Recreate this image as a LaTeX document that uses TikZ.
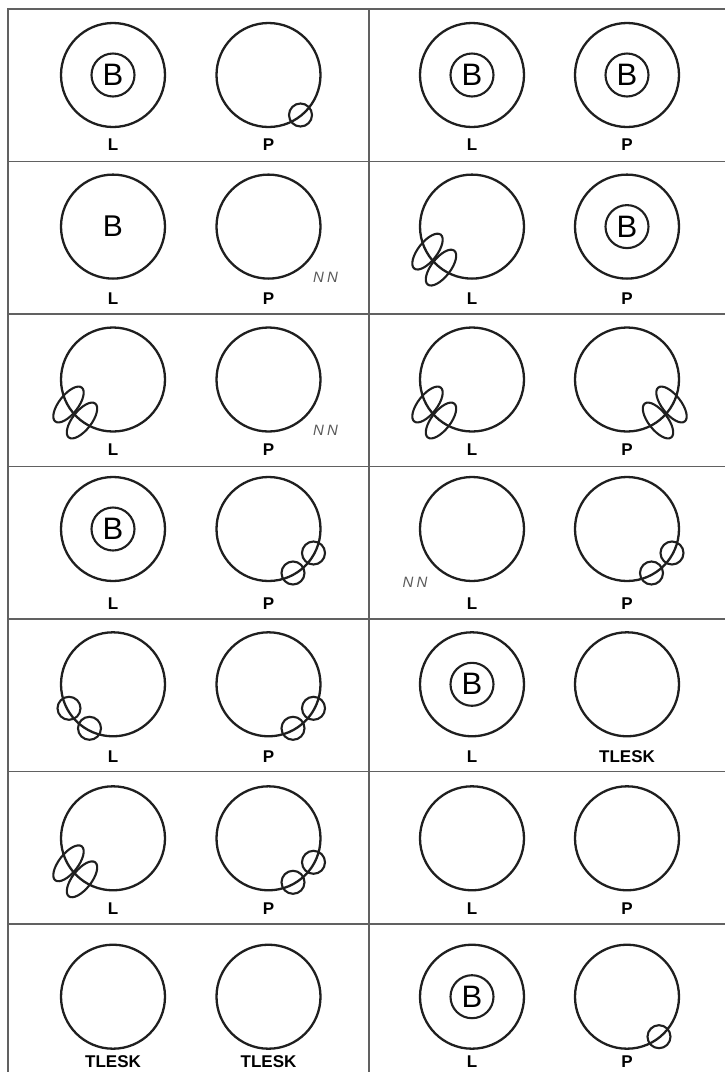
\documentclass[tikz,border=0pt]{standalone}
\usepackage{fontspec}
\setmainfont{Liberation Sans}
\usetikzlibrary{calc,shapes.geometric}
\tikzset{
  bigc/.style={circle,draw=black!88,line width=2.3pt,minimum size=104pt,inner sep=0pt,outer sep=0pt},
  bcirc/.style={circle,draw=black!88,line width=2.1pt,minimum size=43pt,inner sep=0pt,font=\fontsize{31}{31}\selectfont},
  bplain/.style={inner sep=0pt,font=\fontsize{30}{30}\selectfont},
  smallc/.style={circle,draw=black!88,line width=2.1pt,minimum size=23pt,inner sep=0pt},
  ell/.style={ellipse,draw=black!88,line width=2.1pt,minimum width=43pt,minimum height=19pt,inner sep=0pt},
  lbl/.style={inner sep=0pt,font=\bfseries\fontsize{17}{17}\selectfont},
  nnlbl/.style={inner sep=0pt,text=black!65,font=\itshape\fontsize{15}{15}\selectfont},
  gridln/.style={draw=black!62,line width=1.5pt}
}
\newcommand\dPair[7]{%
  \node[bigc] (#1L) at (#2,-#4) {};
  \node[bigc] (#1P) at (#3,-#4) {};
  \node[lbl] (#1Ll) at (#2,-#5) {#6};
  \node[lbl] (#1Pl) at (#3,-#5) {#7};}
\newcommand\dCircB[1]{\node[bcirc] (#1B) at (#1.center) {B};}
\newcommand\dPlainB[1]{\node[bplain] (#1B) at (#1.center) {B};}
\newcommand\dOneS[1]{\node[smallc] (#1s) at ($(#1.center)+(32,-40)$) {};}
\newcommand\dTwoSR[1]{\node[smallc] (#1sa) at ($(#1.center)+(24.5,-44)$) {};
  \node[smallc] (#1sb) at ($(#1.center)+(45,-24)$) {};}
\newcommand\dTwoSL[1]{\node[smallc] (#1sa) at ($(#1.center)+(-44,-24)$) {};
  \node[smallc] (#1sb) at ($(#1.center)+(-23.5,-44)$) {};}
\newcommand\dEllL[1]{\node[ell,rotate=52] (#1ea) at ($(#1.center)+(-44.5,-25)$) {};
  \node[ell,rotate=52] (#1eb) at ($(#1.center)+(-31,-41)$) {};}
\newcommand\dEllR[1]{\node[ell,rotate=128] (#1ea) at ($(#1.center)+(44.5,-25)$) {};
  \node[ell,rotate=128] (#1eb) at ($(#1.center)+(31,-41)$) {};}
\newcommand\dNNR[1]{\node[nnlbl] (#1n) at ($(#1.center)+(57,-51)$) {N\hspace{3pt}N};}
\newcommand\dNNL[1]{\node[nnlbl] (#1n) at ($(#1.center)+(-57,-53)$) {N\hspace{3pt}N};}
\begin{document}
\begin{tikzpicture}[x=1pt,y=1pt]
\useasboundingbox (0,0) rectangle (724,-1072);
% table
\draw[gridln] (8,-1090) -- (8,-9) -- (740,-9);
\draw[gridln] (369,-9) -- (369,-1090);
\foreach \yy in {161.5,314,466.5,619,771.5,924} {\draw[gridln] (8,-\yy) -- (740,-\yy);}
% row 1
\dPair{a}{113}{268.5}{75}{145}{L}{P}
\dCircB{aL} \dOneS{aP}
\dPair{b}{472}{627}{75}{145}{L}{P}
\dCircB{bL} \dCircB{bP}
% row 2
\dPair{c}{113}{268.5}{226.6}{298.5}{L}{P}
\dPlainB{cL} \dNNR{cP}
\dPair{d}{472}{627}{226.6}{298.5}{L}{P}
\dEllL{dL} \dCircB{dP}
% row 3
\dPair{e}{113}{268.5}{379.5}{450}{L}{P}
\dEllL{eL} \dNNR{eP}
\dPair{f}{472}{627}{379.5}{450}{L}{P}
\dEllL{fL} \dEllR{fP}
% row 4
\dPair{g}{113}{268.5}{529}{603.5}{L}{P}
\dCircB{gL} \dTwoSR{gP}
\dPair{h}{472}{627}{529}{603.5}{L}{P}
\dNNL{hL} \dTwoSR{hP}
% row 5
\dPair{i}{113}{268.5}{684.3}{756.5}{L}{P}
\dTwoSL{iL} \dTwoSR{iP}
\dPair{j}{472}{627}{684.3}{756.5}{L}{TLESK}
\dCircB{jL}
% row 6
\dPair{k}{113}{268.5}{838.3}{908.3}{L}{P}
\dEllL{kL} \dTwoSR{kP}
\dPair{m}{472}{627}{838.3}{908.3}{L}{P}
% row 7
\dPair{n}{113}{268.5}{996.7}{1061.5}{TLESK}{TLESK}
\dPair{o}{472}{627}{996.7}{1061.5}{L}{P}
\dCircB{oL} \dOneS{oP}
\end{tikzpicture}
\end{document}
